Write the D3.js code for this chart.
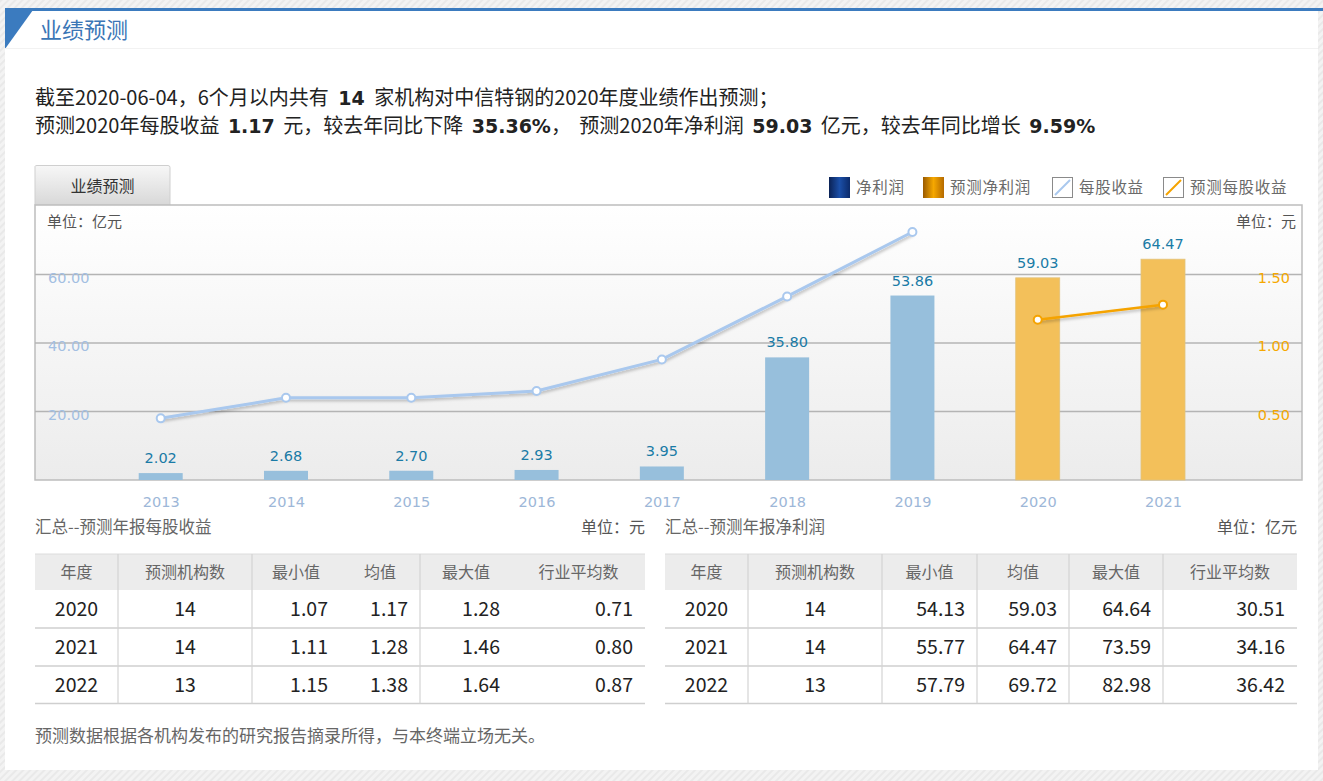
<!DOCTYPE html>
<html><head><meta charset="utf-8">
<script src="https://cdn.jsdelivr.net/npm/d3@7"></script>
<style>
body{margin:0;background:#fff;overflow:hidden}
svg{display:block}
</style></head><body>
<svg id="c" width="1323" height="781"></svg>
<script>
// ---------- DATA ----------
const years = ["2013","2014","2015","2016","2017","2018","2019","2020","2021"];
const netProfit = [2.02, 2.68, 2.70, 2.93, 3.95, 35.80, 53.86, 59.03, 64.47];
const forecastYears = ["2020","2021"];
const epsYears = ["2013","2014","2015","2016","2017","2018","2019"];
const epsValues = [0.45, 0.60, 0.60, 0.65, 0.88, 1.34, 1.81];
const epsForecastValues = [1.17, 1.28];
const leftTicks = [20, 40, 60];
const rightTicks = [0.5, 1.0, 1.5];
const legendLabels = ["净利润", "预测净利润", "每股收益", "预测每股收益"];
const tableHeader = ["年度", "预测机构数", "最小值", "均值", "最大值", "行业平均数"];
const epsTableRows = [
  ["2020", "14", "1.07", "1.17", "1.28", "0.71"],
  ["2021", "14", "1.11", "1.28", "1.46", "0.80"],
  ["2022", "13", "1.15", "1.38", "1.64", "0.87"]
];
const npTableRows = [
  ["2020", "14", "54.13", "59.03", "64.64", "30.51"],
  ["2021", "14", "55.77", "64.47", "73.59", "34.16"],
  ["2022", "13", "57.79", "69.72", "82.98", "36.42"]
];
const line1 = [["截至2020-06-04，6个月以内共有 ", false], ["14", true], [" 家机构对中信特钢的2020年度业绩作出预测；", false]];
const line2 = [["预测2020年每股收益 ", false], ["1.17", true], [" 元，较去年同比下降 ", false], ["35.36%", true], ["， 预测2020年净利润 ", false], ["59.03", true], [" 亿元，较去年同比增长 ", false], ["9.59%", true]];

// ---------- DRAW ----------
const svg = d3.select("#c");
const CJK = "'Noto Sans CJK SC','Noto Sans',sans-serif";
const VER = "'DejaVu Sans',Verdana,sans-serif";
const defs = svg.append("defs");

const pat = defs.append("pattern").attr("id","stripe").attr("width",5).attr("height",5)
  .attr("patternUnits","userSpaceOnUse").attr("patternTransform","rotate(45)");
pat.append("rect").attr("width",5).attr("height",5).attr("fill","#f3f3f3");
pat.append("rect").attr("width",2).attr("height",5).attr("fill","#e9e9e9");

const pg = defs.append("linearGradient").attr("id","plotbg").attr("x1",0).attr("y1",0).attr("x2",0).attr("y2",1);
pg.append("stop").attr("offset","0%").attr("stop-color","#ffffff");
pg.append("stop").attr("offset","100%").attr("stop-color","#ececec");

const tg = defs.append("linearGradient").attr("id","tabbg").attr("x1",0).attr("y1",0).attr("x2",0).attr("y2",1);
tg.append("stop").attr("offset","0%").attr("stop-color","#f7f7f7");
tg.append("stop").attr("offset","100%").attr("stop-color","#d8d8d8");

const bg1 = defs.append("linearGradient").attr("id","sw1");
[["0%","#0b2255"],["50%","#1b4fa8"],["100%","#0b2a6a"]].forEach(s=>bg1.append("stop").attr("offset",s[0]).attr("stop-color",s[1]));
const bg2 = defs.append("linearGradient").attr("id","sw2");
[["0%","#9a5a00"],["50%","#f6a800"],["100%","#b56a00"]].forEach(s=>bg2.append("stop").attr("offset",s[0]).attr("stop-color",s[1]));

const sh = defs.append("filter").attr("id","shadow").attr("x","-10%").attr("y","-10%").attr("width","120%").attr("height","140%");
sh.append("feDropShadow").attr("dx",1).attr("dy",2).attr("stdDeviation",1.5).attr("flood-color","#000").attr("flood-opacity",0.25);

// page background + panel
svg.append("rect").attr("width",1323).attr("height",781).attr("fill","url(#stripe)");
svg.append("rect").attr("x",5).attr("y",10).attr("width",1313).attr("height",760).attr("fill","#fff");
svg.append("rect").attr("x",5).attr("y",8).attr("width",1318).attr("height",3).attr("fill","#3b7bbf");
svg.append("path").attr("d","M5,10 L33,10 L5,49 Z").attr("fill","#3b7bbf");
svg.append("line").attr("x1",5).attr("x2",1318).attr("y1",48.5).attr("y2",48.5).attr("stroke","#f2f2f2");
svg.append("text").attr("x",40).attr("y",38).attr("font-family",CJK).attr("font-size",22)
  .attr("fill","#3a76b6").text("业绩预测");

// intro text
function richLine(y, segs, ws){
  const t = svg.append("text").attr("x",35).attr("y",y).attr("fill","#222")
    .attr("style",`white-space:pre;word-spacing:${ws}px`);
  segs.forEach(s=>{
    t.append("tspan").text(s[0]).attr("font-family", s[1]?VER:CJK).attr("font-weight", s[1]?"bold":"normal")
      .attr("font-size", s[1]?19:20);
  });
}
richLine(105, line1, 5);
richLine(133, line2, 4);

// chart frame
const X0 = 35, X1 = 1302, Y0 = 480, YT = 205;
svg.append("path").attr("d",`M35,205 L35,166.5 Q35,165.5 37,165.5 L168,165.5 Q170,165.5 170,167.5 L170,205`)
  .attr("fill","url(#tabbg)").attr("stroke","#cfcfcf");
svg.append("text").attr("x",102.5).attr("y",192).attr("text-anchor","middle").attr("font-family",CJK)
  .attr("font-size",16).attr("fill","#333").text("业绩预测");
svg.append("rect").attr("x",X0).attr("y",YT).attr("width",X1-X0).attr("height",Y0-YT)
  .attr("fill","url(#plotbg)").attr("stroke","#bdbdbd").attr("stroke-width",1.5);

const x = d3.scalePoint().domain(years).range([160.7, 1163]);
const y = d3.scaleLinear().domain([0,80]).range([Y0, 206]);
const y2 = d3.scaleLinear().domain([0,2]).range([Y0, 206]);

// gridlines
svg.append("g").selectAll("line").data(leftTicks).join("line")
  .attr("x1",X0).attr("x2",X1).attr("y1",d=>y(d)).attr("y2",d=>y(d))
  .attr("stroke","#b4b4b4").attr("stroke-width",1.5);

// units
svg.append("text").attr("x",47).attr("y",227).attr("font-family",CJK).attr("font-size",15).attr("fill","#555").text("单位：亿元");
svg.append("text").attr("x",1296).attr("y",227).attr("text-anchor","end").attr("font-family",CJK).attr("font-size",15).attr("fill","#555").text("单位：元");

// bars
const bw = 44;
const barData = years.map((yr,i)=>({yr, v: netProfit[i], f: forecastYears.includes(yr)}));
svg.append("g").selectAll("rect").data(barData).join("rect")
  .attr("x",d=>x(d.yr)-bw/2).attr("width",bw)
  .attr("y",d=>y(d.v)).attr("height",d=>Y0-y(d.v))
  .attr("fill",d=>d.f?"#f3c05a":"#97bfdc")
  .attr("stroke",d=>d.f?"#e2c27a":"none").attr("stroke-width",0.8);
svg.append("g").selectAll("text").data(barData).join("text")
  .attr("x",d=>x(d.yr)).attr("y",d=>y(d.v)-10).attr("text-anchor","middle")
  .attr("font-family",VER).attr("font-size",14.5).attr("fill","#1a7ba6")
  .text(d=>d.v.toFixed(2));

// axis tick labels
const la = d3.axisLeft(y).tickValues(leftTicks).tickFormat(d3.format(".2f")).tickSize(0);
const lg = svg.append("g").attr("transform","translate(48,0)").call(la);
lg.select(".domain").remove();
lg.selectAll("text").attr("text-anchor","start").attr("x",0).attr("dy","0.55em")
  .attr("font-family",VER).attr("font-size",14.5).attr("fill","#a3bfe2");

const ra = d3.axisRight(y2).tickValues(rightTicks).tickFormat(d3.format(".2f")).tickSize(0);
const rg = svg.append("g").attr("transform","translate(1290,0)").call(ra);
rg.select(".domain").remove();
rg.selectAll("text").attr("text-anchor","end").attr("x",0).attr("dy","0.55em")
  .attr("font-family",VER).attr("font-size",14.5).attr("fill","#f5a800");

const ba = d3.axisBottom(x).tickSize(0);
const bgx = svg.append("g").attr("transform",`translate(0,${Y0})`).call(ba);
bgx.select(".domain").remove();
bgx.selectAll("text").attr("y",27).attr("dy","0").attr("font-family",VER).attr("font-size",14.5).attr("fill","#9db7d8");

// EPS lines
const line = d3.line().x(d=>x(d.yr)).y(d=>y2(d.v));
const epsData = epsYears.map((yr,i)=>({yr, v: epsValues[i]}));
const epsF = forecastYears.map((yr,i)=>({yr, v: epsForecastValues[i]}));
svg.append("path").datum(epsData).attr("d",line).attr("fill","none").attr("stroke","#a9c8ee")
  .attr("stroke-width",3).attr("filter","url(#shadow)");
svg.append("g").selectAll("circle").data(epsData).join("circle")
  .attr("cx",d=>x(d.yr)).attr("cy",d=>y2(d.v)).attr("r",4)
  .attr("fill","#fff").attr("stroke","#a9c8ee").attr("stroke-width",2);
svg.append("path").datum(epsF).attr("d",line).attr("fill","none").attr("stroke","#f5a300")
  .attr("stroke-width",2.5).attr("filter","url(#shadow)");
svg.append("g").selectAll("circle").data(epsF).join("circle")
  .attr("cx",d=>x(d.yr)).attr("cy",d=>y2(d.v)).attr("r",4)
  .attr("fill","#fff").attr("stroke","#f5a300").attr("stroke-width",2);

// legend
const legX = [829, 923, 1052, 1163];
const lgG = svg.append("g");
legendLabels.forEach((lab,i)=>{
  const gx = legX[i];
  if(i<2){
    lgG.append("rect").attr("x",gx).attr("y",177).attr("width",21).attr("height",21).attr("fill",`url(#sw${i+1})`);
  } else {
    lgG.append("rect").attr("x",gx+0.5).attr("y",177.5).attr("width",20).attr("height",20).attr("fill","#fff").attr("stroke","#8a8a8a");
    lgG.append("line").attr("x1",gx+3).attr("y1",195).attr("x2",gx+18).attr("y2",180)
      .attr("stroke", i===2?"#a9c8ee":"#f5a300").attr("stroke-width",2);
  }
  lgG.append("text").attr("x",gx+27).attr("y",193).attr("font-family",CJK).attr("font-size",15.5)
    .attr("letter-spacing",0.7).attr("fill","#6a6a6a").text(lab);
});

// tables
function drawTable(cfg){
  const g = svg.append("g");
  const {cols, rows, seps, title, unit} = cfg;
  const L = cols[0], R = cols[cols.length-1];
  g.append("text").attr("x",L).attr("y",533).attr("font-family",CJK).attr("font-size",16.5).attr("fill","#666").text(title);
  g.append("text").attr("x",R).attr("y",533).attr("text-anchor","end").attr("font-family",CJK).attr("font-size",16).attr("fill","#555").text(unit);
  g.append("rect").attr("x",L).attr("y",554).attr("width",R-L).attr("height",36).attr("fill","#ececec");
  g.append("line").attr("x1",L).attr("x2",R).attr("y1",554).attr("y2",554).attr("stroke","#dcdcdc");
  const rowY = [590, 628, 666, 703.5];
  rowY.slice(1).forEach(yy=>g.append("line").attr("x1",L).attr("x2",R).attr("y1",yy).attr("y2",yy).attr("stroke","#cfcfcf").attr("stroke-width",1.3));
  seps.forEach(xx=>g.append("line").attr("x1",xx).attr("x2",xx).attr("y1",554).attr("y2",703.5).attr("stroke","#d4d4d4").attr("stroke-width",1.2));
  tableHeader.forEach((h,j)=>{
    g.append("text").attr("x",(cols[j]+cols[j+1])/2).attr("y",578).attr("text-anchor","middle")
      .attr("font-family",CJK).attr("font-size",16).attr("fill","#666").text(h);
  });
  rows.forEach((r,i)=>{
    r.forEach((v,j)=>{
      const centered = j<2;
      g.append("text").attr("x", centered ? (cols[j]+cols[j+1])/2 : cols[j+1]-12)
        .attr("y", (rowY[i]+rowY[i+1])/2+7).attr("text-anchor", centered?"middle":"end")
        .attr("font-family",CJK).attr("font-size",19.5).attr("fill","#222").text(v);
    });
  });
}
drawTable({cols:[35,118,252,340,420,512,645], seps:[118,252,420], rows:epsTableRows,
  title:"汇总--预测年报每股收益", unit:"单位：元"});
drawTable({cols:[665,748,882,977,1069,1163,1297], seps:[748,882,977,1069,1163], rows:npTableRows,
  title:"汇总--预测年报净利润", unit:"单位：亿元"});

svg.append("text").attr("x",35).attr("y",742).attr("font-family",CJK).attr("font-size",17).attr("fill","#666")
  .text("预测数据根据各机构发布的研究报告摘录所得，与本终端立场无关。");
</script>
</body></html>
